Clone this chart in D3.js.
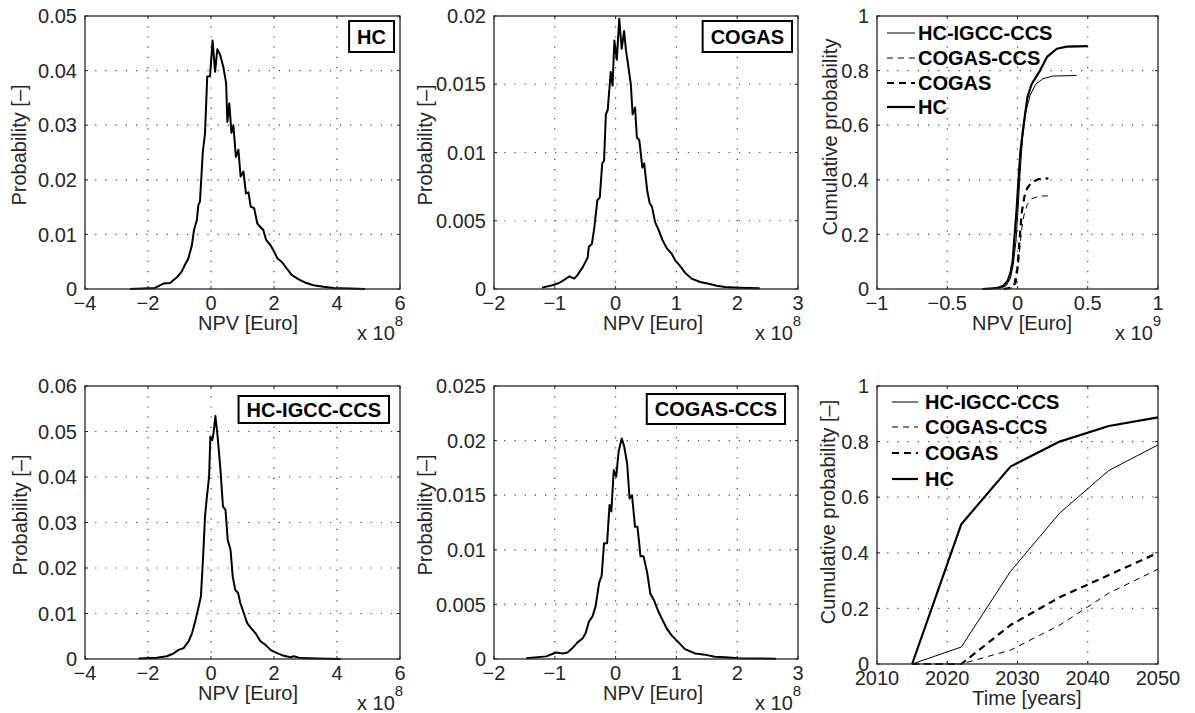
<!DOCTYPE html>
<html>
<head>
<meta charset="utf-8">
<script src="https://cdn.jsdelivr.net/npm/d3@7"></script>
<style>
body { margin: 0; background: #fff; }
svg { display: block; font-family: "Liberation Sans", Arial, sans-serif; }
</style>
</head>
<body>
<svg width="1195" height="713"></svg>
<script>
// ---- data (NPV in 1e8 / 1e9 Euro, probability) ----
let hcNpv   = [-2.57,-1.78,-1.51,-1.30,-1.09,-0.93,-0.83,-0.72,-0.61,-0.54,-0.45,-0.40,-0.35,-0.26,-0.19,-0.12,-0.03,0.05,0.13,0.20,0.29,0.39,0.48,0.52,0.58,0.65,0.71,0.79,0.87,0.94,1.03,1.11,1.19,1.26,1.37,1.47,1.56,1.66,1.75,1.88,1.98,2.11,2.24,2.40,2.56,2.77,2.98,3.25,3.57,3.89,4.89];
let hcProb  = [0,0.0002,0.001,0.0011,0.0021,0.0032,0.0044,0.0056,0.0079,0.0108,0.0126,0.0154,0.016,0.0251,0.0285,0.0389,0.039,0.0455,0.0398,0.0439,0.0429,0.0407,0.0377,0.0306,0.034,0.0286,0.030,0.0242,0.0255,0.0206,0.0215,0.0175,0.0177,0.0151,0.0148,0.012,0.0114,0.0108,0.009,0.0081,0.0071,0.0056,0.005,0.0038,0.0026,0.0018,0.0012,0.0007,0.0004,0.0002,0];

let cogasNpv  = [-1.21,-1.04,-0.93,-0.84,-0.76,-0.68,-0.63,-0.54,-0.46,-0.44,-0.39,-0.35,-0.30,-0.26,-0.22,-0.19,-0.16,-0.13,-0.08,-0.05,-0.02,0.02,0.06,0.10,0.14,0.17,0.21,0.25,0.28,0.32,0.35,0.39,0.44,0.47,0.52,0.56,0.60,0.65,0.71,0.77,0.84,0.92,0.98,1.06,1.14,1.25,1.39,1.53,1.66,1.80,2.02,2.37];
let cogasProb = [0.0001,0.00027,0.00044,0.00068,0.00093,0.00076,0.001,0.0016,0.0023,0.0031,0.0033,0.0045,0.0065,0.0067,0.0092,0.0094,0.0128,0.0131,0.0159,0.0149,0.0182,0.0168,0.0198,0.0176,0.0189,0.0175,0.0163,0.015,0.0128,0.0133,0.0111,0.0109,0.0089,0.0092,0.0072,0.0063,0.006,0.0049,0.0043,0.0036,0.003,0.0026,0.0021,0.0017,0.0012,0.00076,0.00051,0.00039,0.00024,0.00015,0.0001,0.00005];

let igccNpv  = [-2.30,-1.72,-1.40,-1.19,-1.03,-0.87,-0.71,-0.60,-0.50,-0.39,-0.32,-0.25,-0.19,-0.13,-0.06,-0.02,0.04,0.08,0.14,0.21,0.30,0.38,0.46,0.53,0.62,0.69,0.77,0.86,0.93,1.04,1.15,1.27,1.41,1.57,1.73,1.91,2.10,2.31,2.53,2.63,2.84,3.37,4.12];
let igccProb = [0.0001,0.0003,0.0006,0.0012,0.002,0.0024,0.0039,0.0057,0.0083,0.0116,0.0138,0.0225,0.0313,0.0357,0.0401,0.0489,0.0481,0.0496,0.0534,0.0489,0.0416,0.0335,0.0328,0.0262,0.024,0.0181,0.0152,0.0145,0.0123,0.0101,0.0079,0.0068,0.0057,0.0039,0.0031,0.0019,0.0013,0.0007,0.0004,0.0006,0.0002,0.0001,0];

let cogasCcsNpv  = [-1.47,-1.14,-0.98,-0.87,-0.79,-0.71,-0.63,-0.54,-0.49,-0.44,-0.38,-0.33,-0.27,-0.23,-0.19,-0.14,-0.10,-0.07,-0.03,0.01,0.05,0.10,0.14,0.19,0.23,0.27,0.32,0.36,0.41,0.46,0.52,0.57,0.63,0.70,0.76,0.84,0.93,1.04,1.14,1.31,1.47,1.63,1.80,2.02,2.64];
let cogasCcsProb = [0.00006,0.00024,0.0006,0.0005,0.0006,0.001,0.0015,0.0019,0.0024,0.0034,0.0039,0.0048,0.007,0.0076,0.0106,0.0106,0.0141,0.0135,0.0173,0.0167,0.019,0.0202,0.0195,0.0179,0.0147,0.015,0.0121,0.0121,0.0094,0.0094,0.0079,0.006,0.0054,0.0044,0.0037,0.0028,0.0021,0.0015,0.0009,0.0005,0.0004,0.0002,0.00015,0.00006,0.00003];

// cumulative probability vs NPV (1e9 Euro)
let cdfHcX    = [-0.25,-0.15,-0.1,-0.07,-0.05,-0.035,-0.02,-0.005,0.007,0.02,0.043,0.07,0.1,0.16,0.21,0.28,0.35,0.5];
let cdfHcY    = [0,0.003,0.012,0.03,0.06,0.1,0.2,0.3,0.4,0.5,0.6,0.7,0.75,0.8,0.85,0.88,0.888,0.89];
let cdfIgccX  = [-0.22,-0.12,-0.08,-0.05,-0.03,-0.01,0.005,0.018,0.035,0.06,0.09,0.13,0.18,0.25,0.42];
let cdfIgccY  = [0,0.003,0.012,0.04,0.09,0.18,0.3,0.42,0.55,0.65,0.71,0.75,0.77,0.78,0.782];
let cdfCogasX = [-0.1,-0.04,-0.02,0,0.015,0.03,0.05,0.07,0.1,0.15,0.22];
let cdfCogasY = [0,0.005,0.02,0.08,0.18,0.28,0.34,0.37,0.39,0.403,0.405];
let cdfCcsX   = [-0.08,-0.03,-0.01,0.005,0.02,0.035,0.05,0.07,0.1,0.15,0.25];
let cdfCcsY   = [0,0.005,0.02,0.08,0.17,0.24,0.28,0.31,0.33,0.34,0.342];

// cumulative probability vs time
let years      = [2015,2022,2029,2036,2043,2050];
let timeHc     = [0,0.503,0.71,0.80,0.856,0.887];
let timeIgcc   = [0,0.061,0.333,0.543,0.696,0.788];
let timeCogas  = [0,0,0.14,0.24,0.32,0.40];
let timeCcs    = [0,0,0.05,0.14,0.255,0.341];

let legendNames = ["HC-IGCC-CCS","COGAS-CCS","COGAS","HC"];

let npvTicks8a = [-4,-2,0,2,4,6];
let npvTicks8b = [-2,-1,0,1,2,3];
let npvTicks9  = [-1,-0.5,0,0.5,1];
let yearTicks  = [2010,2020,2030,2040,2050];

// line styles
const thick = {w: 2.2, dash: null};
const thickDash = {w: 2.2, dash: "7,5"};
const thin = {w: 1, dash: null};
const thinDash = {w: 1, dash: "6,5"};
const hist = {w: 2, dash: null};

const zip = (xs, ys) => xs.map((x, i) => [x, ys[i]]);

const panels = [
  {box: [85, 400, 16, 289], xd: [-4, 6], yd: [0, 0.05], xt: npvTicks8a, yt: [0,0.01,0.02,0.03,0.04,0.05],
   ylab: "Probability [\u2013]", ylx: 26, yly: 145, xlab: "NPV [Euro]", xlx: 248, exp: "8",
   tag: {t: "HC", right: 394, top: 21, h: 31},
   series: [{d: zip(hcNpv, hcProb), s: hist}]},
  {box: [494, 798, 16, 289], xd: [-2, 3], yd: [0, 0.02], xt: npvTicks8b, yt: [0,0.005,0.01,0.015,0.02],
   ylab: "Probability [\u2013]", ylx: 432, yly: 145, xlab: "NPV [Euro]", xlx: 653, exp: "8",
   tag: {t: "COGAS", right: 792, top: 21, h: 31},
   series: [{d: zip(cogasNpv, cogasProb), s: hist}]},
  {box: [877, 1158, 16, 289], xd: [-1, 1], yd: [0, 1], xt: npvTicks9, yt: [0,0.2,0.4,0.6,0.8,1],
   ylab: "Cumulative probability", ylx: 837, yly: 137, xlab: "NPV [Euro]", xlx: 1022, exp: "9",
   legend: {x0: 887, x1: 915, tx: 918, ys: [33, 58, 83, 107]},
   series: [{d: zip(cdfIgccX, cdfIgccY), s: thin}, {d: zip(cdfCcsX, cdfCcsY), s: thinDash},
            {d: zip(cdfCogasX, cdfCogasY), s: thickDash}, {d: zip(cdfHcX, cdfHcY), s: thick}]},
  {box: [85, 400, 386, 659], xd: [-4, 6], yd: [0, 0.06], xt: npvTicks8a, yt: [0,0.01,0.02,0.03,0.04,0.05,0.06],
   ylab: "Probability [\u2013]", ylx: 27, yly: 515, xlab: "NPV [Euro]", xlx: 248, exp: "8",
   tag: {t: "HC-IGCC-CCS", right: 389, top: 396, h: 27},
   series: [{d: zip(igccNpv, igccProb), s: hist}]},
  {box: [494, 798, 386, 659], xd: [-2, 3], yd: [0, 0.025], xt: npvTicks8b, yt: [0,0.005,0.01,0.015,0.02,0.025],
   ylab: "Probability [\u2013]", ylx: 432, yly: 515, xlab: "NPV [Euro]", xlx: 653, exp: "8",
   tag: {t: "COGAS-CCS", right: 785, top: 394, h: 30},
   series: [{d: zip(cogasCcsNpv, cogasCcsProb), s: hist}]},
  {box: [877, 1158, 386, 664], xd: [2010, 2050], yd: [0, 1], xt: yearTicks, yt: [0,0.2,0.4,0.6,0.8,1],
   ylab: "Cumulative probability [\u2013]", ylx: 835, yly: 512, xlab: "Time [years]", xlx: 1027, exp: null, year: true,
   legend: {x0: 892, x1: 918, tx: 925, ys: [402, 427, 453, 479]},
   series: [{d: zip(years, timeIgcc), s: thin}, {d: zip(years, timeCcs), s: thinDash},
            {d: zip(years, timeCogas), s: thickDash}, {d: zip(years, timeHc), s: thick}]}
];

const svg = d3.select("svg");
const ink = "#262626";
const fmtNum = d => (d < 0 ? "\u2212" : "") + String(+Math.abs(d).toFixed(4));

panels.forEach(p => {
  const [x0, x1, y0, y1] = p.box;
  const x = d3.scaleLinear().domain(p.xd).range([x0, x1]);
  const y = d3.scaleLinear().domain(p.yd).range([y1, y0]);
  const g = svg.append("g");

  // dotted grid
  g.selectAll(".gx").data(p.xt.slice(1, -1)).enter().append("line")
    .attr("x1", d => x(d)).attr("x2", d => x(d)).attr("y1", y0).attr("y2", y1)
    .attr("stroke", "#444").attr("stroke-width", 1.2).attr("stroke-dasharray", "1.2,9");
  g.selectAll(".gy").data(p.yt.slice(1, -1)).enter().append("line")
    .attr("y1", d => y(d)).attr("y2", d => y(d)).attr("x1", x0).attr("x2", x1)
    .attr("stroke", "#444").attr("stroke-width", 1.2).attr("stroke-dasharray", "1.2,9");

  // inward ticks on all sides
  p.xt.forEach(t => {
    g.append("line").attr("x1", x(t)).attr("x2", x(t)).attr("y1", y1).attr("y2", y1 - 3).attr("stroke", ink);
    g.append("line").attr("x1", x(t)).attr("x2", x(t)).attr("y1", y0).attr("y2", y0 + 3).attr("stroke", ink);
  });
  p.yt.forEach(t => {
    g.append("line").attr("y1", y(t)).attr("y2", y(t)).attr("x1", x0).attr("x2", x0 + 3).attr("stroke", ink);
    g.append("line").attr("y1", y(t)).attr("y2", y(t)).attr("x1", x1).attr("x2", x1 - 3).attr("stroke", ink);
  });

  // series
  const line = d3.line().x(d => x(d[0])).y(d => y(d[1]));
  p.series.forEach(s => {
    g.append("path").datum(s.d).attr("d", line)
      .attr("fill", "none").attr("stroke", "#000")
      .attr("stroke-width", s.s.w).attr("stroke-linejoin", "round")
      .attr("stroke-dasharray", s.s.dash);
  });

  // box
  g.append("rect").attr("x", x0).attr("y", y0).attr("width", x1 - x0).attr("height", y1 - y0)
    .attr("fill", "none").attr("stroke", ink).attr("stroke-width", 1.3);

  // tick labels
  g.selectAll(".xl").data(p.xt).enter().append("text")
    .attr("x", d => x(d)).attr("y", y1 + 21).attr("text-anchor", "middle")
    .attr("font-size", 20).attr("fill", ink)
    .text(d => p.year ? String(d) : fmtNum(d));
  g.selectAll(".yl").data(p.yt).enter().append("text")
    .attr("x", x0 - 8).attr("y", d => y(d)).attr("dy", "0.36em").attr("text-anchor", "end")
    .attr("font-size", 20).attr("fill", ink)
    .text(fmtNum);

  // axis labels
  g.append("text").attr("transform", `translate(${p.ylx},${p.yly}) rotate(-90)`)
    .attr("text-anchor", "middle").attr("font-size", 20).attr("fill", ink).text(p.ylab);
  g.append("text").attr("x", p.xlx).attr("y", y1 + 41).attr("text-anchor", "middle")
    .attr("font-size", 20).attr("fill", ink).text(p.xlab);

  if (p.exp) {
    const e = g.append("text").attr("x", x1 - 43).attr("y", y1 + 51)
      .attr("font-size", 20).attr("fill", ink);
    e.append("tspan").text("x 10");
    e.append("tspan").attr("dy", -14).attr("font-size", 15).text(p.exp);
  }

  // tag box
  if (p.tag) {
    const t = g.append("text").attr("font-size", 20).attr("font-weight", "bold")
      .attr("fill", "#000").text(p.tag.t);
    const w = t.node().getComputedTextLength();
    const bw = w + 16;
    g.insert("rect", "text").attr("x", p.tag.right - bw).attr("y", p.tag.top)
      .attr("width", bw).attr("height", p.tag.h)
      .attr("fill", "#fff").attr("stroke", "#000").attr("stroke-width", 2);
    t.attr("x", p.tag.right - bw + 8).attr("y", p.tag.top + p.tag.h / 2).attr("dy", "0.36em");
  }

  // legend
  if (p.legend) {
    const L = p.legend;
    p.series.forEach((s, i) => {
      g.append("line").attr("x1", L.x0).attr("x2", L.x1).attr("y1", L.ys[i]).attr("y2", L.ys[i])
        .attr("stroke", "#000").attr("stroke-width", s.s.w).attr("stroke-dasharray", s.s.dash);
      g.append("text").attr("x", L.tx).attr("y", L.ys[i]).attr("dy", "0.36em")
        .attr("font-size", 20).attr("font-weight", "bold").attr("fill", "#000")
        .text(legendNames[i]);
    });
  }
});
</script>
</body>
</html>
